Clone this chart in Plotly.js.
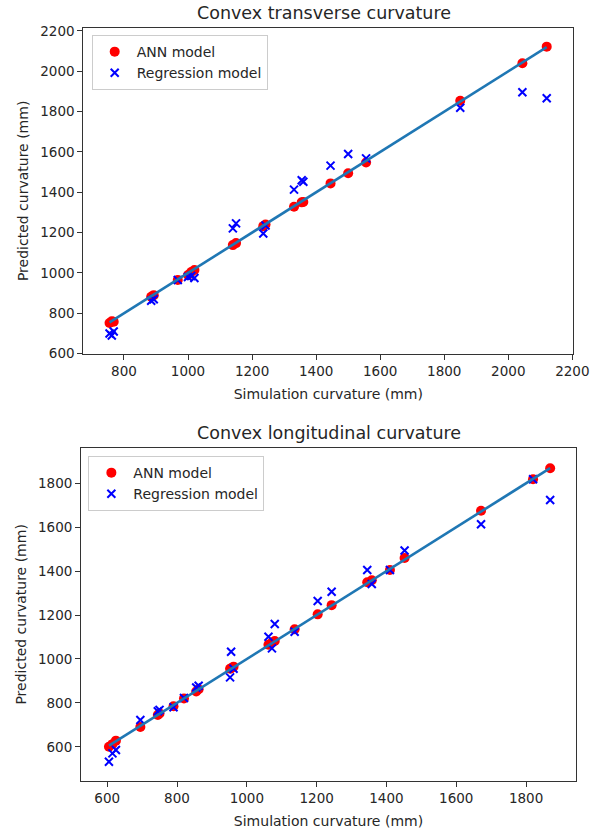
<!DOCTYPE html>
<html>
<head>
<meta charset="utf-8">
<script src="https://cdn.plot.ly/plotly-3.0.1.min.js"></script>
<style>
html,body{margin:0;padding:0;background:#fff;}
#chart{width:597px;height:834px;}
</style>
</head>
<body>
<div id="chart"></div>
<script>
// ---- Convex transverse curvature ----
var transSim = [755, 762, 768, 885, 893, 968, 1000, 1010, 1020, 1140, 1150, 1235, 1242, 1331, 1355, 1360, 1445, 1500, 1556, 1850, 2044, 2120];
var transANN = [752, 760, 758, 882, 890, 965, 990, 1005, 1015, 1138, 1148, 1232, 1240, 1328, 1350, 1352, 1444, 1494, 1548, 1854, 2040, 2122];
var transReg = [700, 690, 710, 862, 870, 965, 980, 985, 975, 1221, 1246, 1196, 1235, 1413, 1460, 1452, 1532, 1590, 1568, 1819, 1896, 1866];

// ---- Convex longitudinal curvature ----
var longSim = [605, 615, 625, 695, 745, 750, 790, 820, 855, 862, 952, 955, 962, 1062, 1072, 1080, 1137, 1203, 1243, 1345, 1358, 1410, 1452, 1671, 1820, 1869];
var longANN = [600, 612, 628, 690, 745, 752, 785, 820, 852, 862, 955, 958, 965, 1065, 1075, 1082, 1135, 1203, 1245, 1349, 1358, 1405, 1460, 1675, 1818, 1868];
var longReg = [532, 570, 585, 722, 762, 768, 780, 822, 870, 878, 916, 1033, 955, 1101, 1048, 1159, 1124, 1264, 1306, 1405, 1341, 1405, 1494, 1613, 1818, 1724];

var titles = ["Convex transverse curvature", "Convex longitudinal curvature"];
var seriesNames = ["ANN model", "Regression model"];
var xLabel = "Simulation curvature (mm)";
var yLabel = "Predicted curvature (mm)";
var transTicks = [800, 1000, 1200, 1400, 1600, 1800, 2000, 2200];
var transYTicks = [600, 800, 1000, 1200, 1400, 1600, 1800, 2000, 2200];
var longTicks = [600, 800, 1000, 1200, 1400, 1600, 1800];

function mn(a){return Math.min.apply(null,a);}
function mx(a){return Math.max.apply(null,a);}

var FONT = "DejaVu Sans, sans-serif";
var TXT = "#262626";

function traces(sim, ann, reg, xa, ya, leg){
  var lo = mn(sim), hi = mx(sim);
  return [
    {x: sim, y: ann, xaxis: xa, yaxis: ya, type: "scatter", mode: "markers", name: seriesNames[0], legend: leg,
     marker: {color: "red", size: 10, symbol: "circle"}},
    {x: sim, y: reg, xaxis: xa, yaxis: ya, type: "scatter", mode: "markers", name: seriesNames[1], legend: leg,
     marker: {color: "blue", size: 8, symbol: "x-thin", line: {color: "blue", width: 2}}},
    {x: [lo, hi], y: [lo, hi], xaxis: xa, yaxis: ya, type: "scatter", mode: "lines", showlegend: false,
     line: {color: "#1f77b4", width: 2.6}, hoverinfo: "skip"}
  ];
}

var data = traces(transSim, transANN, transReg, "x", "y", "legend")
  .concat(traces(longSim, longANN, longReg, "x2", "y2", "legend2"));

function axis(dom, rng, ticks, title, anchor, standoff){
  return {
    domain: dom, range: rng, anchor: anchor,
    tickmode: "array", tickvals: ticks, ticktext: ticks.map(String),
    ticks: "outside", ticklen: 5, tickwidth: 1, tickcolor: "#333",
    showline: true, mirror: true, linecolor: "#333", linewidth: 1,
    showgrid: false, zeroline: false,
    tickfont: {family: FONT, size: 13.5, color: TXT},
    title: {text: title, font: {family: FONT, size: 14, color: TXT}, standoff: standoff}
  };
}

var legendCommon = {
  bgcolor: "rgba(255,255,255,0.8)", bordercolor: "#cccccc", borderwidth: 1,
  font: {family: FONT, size: 14, color: TXT},
  xanchor: "left", yanchor: "top", tracegroupgap: 0, itemwidth: 34
};

var layout = {
  width: 597, height: 834,
  margin: {l: 0, r: 0, t: 0, b: 0},
  paper_bgcolor: "#fff", plot_bgcolor: "#fff",
  showlegend: true,
  xaxis: axis([0.1395, 0.9603], [673, 2203], transTicks, xLabel, "y", 10),
  yaxis: axis([0.5755, 0.9668], [598, 2216], transYTicks, yLabel, "x", 8),
  xaxis2: axis([0.1357, 0.9648], [525, 1943], longTicks, xLabel, "y2", 10),
  yaxis2: axis([0.0635, 0.4632], [444, 1962], longTicks, yLabel, "x2", 8),
  legend: Object.assign({x: 0.1536, y: 0.958}, legendCommon),
  legend2: Object.assign({x: 0.148, y: 0.4532}, legendCommon),
  annotations: [
    {text: titles[0], xref: "paper", yref: "paper", x: 0.5432, y: 0.984, xanchor: "center", yanchor: "middle",
     showarrow: false, font: {family: FONT, size: 17.5, color: TXT}},
    {text: titles[1], xref: "paper", yref: "paper", x: 0.5503, y: 0.4808, xanchor: "center", yanchor: "middle",
     showarrow: false, font: {family: FONT, size: 17.5, color: TXT}}
  ]
};

Plotly.newPlot("chart", data, layout, {staticPlot: true, displayModeBar: false});
</script>
</body>
</html>
